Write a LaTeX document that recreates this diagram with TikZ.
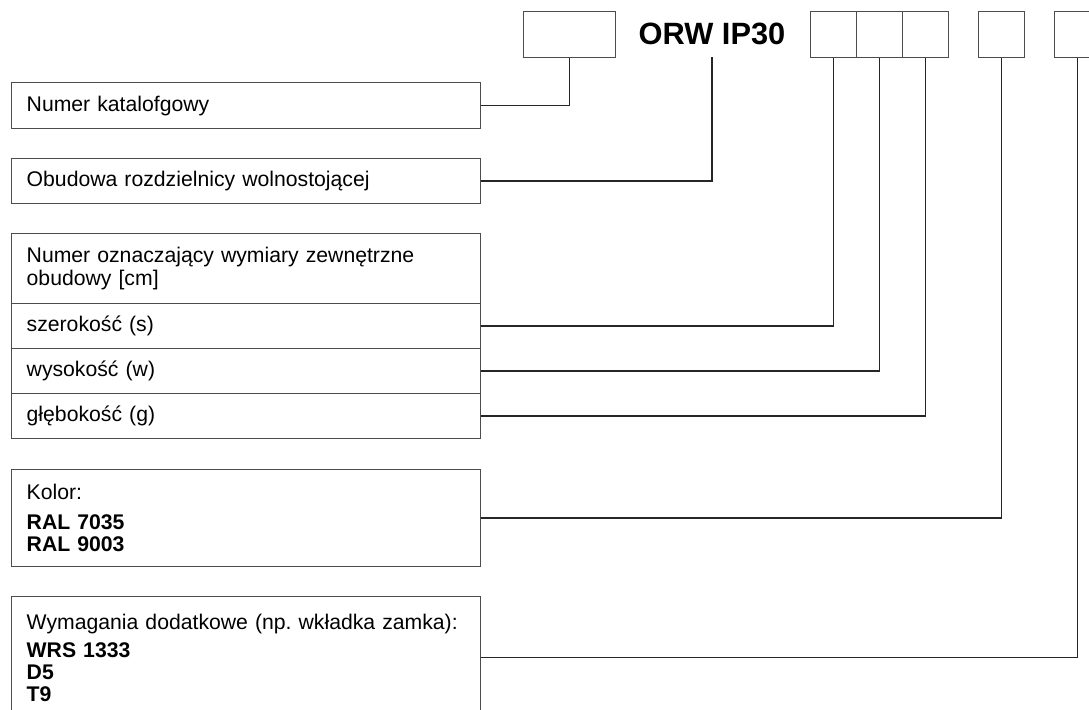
\documentclass[tikz,border=0pt]{standalone}
\usepackage{fontspec}
\setmainfont{Liberation Sans}
\usetikzlibrary{positioning}
\frenchspacing
\begin{document}
\begin{tikzpicture}[x=0.5pt,y=-0.5pt,
    box/.style={draw=black!70,line width=0.7pt},
    cell/.style={box,anchor=north west,minimum width=23pt,minimum height=23pt,inner sep=0pt},
    lbox/.style={box,anchor=north west,text width=219.5pt,inner xsep=7.5pt,inner ysep=0pt,align=left,
        font=\fontsize{10.6}{11}\selectfont},
    link/.style={draw=black!85,line width=0.7pt}]
    \useasboundingbox (0,0) rectangle (1089,710) ;
    % top row of the code
    \node[cell,minimum width=46pt] (cat) at (523,11) {} ;
    \node[minimum height=23pt,inner sep=0pt,font=\fontsize{15.4}{16}\selectfont\bfseries] (orw) at (712,34) {ORW IP30} ;
    \node[cell] (cs) at (810,11) {} ;
    \node[cell] (cw) at (856,11) {} ;
    \node[cell] (cg) at (902,11) {} ;
    \node[cell] (ck) at (978,11) {} ;
    \node[cell] (cx) at (1054,11) {} ;
    % descriptions on the left
    \node[lbox,minimum height=23pt] (numkat) at (11,82) {Numer katalofgowy} ;
    \node[lbox,minimum height=22.5pt] (obud) at (11,158) {Obudowa rozdzielnicy wolnostojącej} ;
    \node[lbox,minimum height=35pt,font=\fontsize{10.6}{11.2}\selectfont] (wym) at (11,233) {Numer oznaczający wymiary zewnętrzne\\obudowy [cm]} ;
    \node[lbox,minimum height=22.5pt] (szer) at (11,303) {szerokość (s)} ;
    \node[lbox,minimum height=22.5pt] (wys) at (11,348) {wysokość (w)} ;
    \node[lbox,minimum height=22.5pt] (gleb) at (11,393) {głębokość (g)} ;
    \node[lbox,minimum height=48.5pt] (kolor) at (11,469) {Kolor:\\[4pt]\textbf{RAL 7035}\\\textbf{RAL 9003}} ;
    \node[lbox,minimum height=61pt] (dod) at (11,596) {Wymagania dodatkowe (np. wkładka zamka):\\[3pt]\textbf{WRS 1333}\\\textbf{D5}\\\textbf{T9}} ;

    \draw[link] (cat.south) |- (numkat.east) ;
    \draw[link] (orw.south) |- (obud.east) ;
    \draw[link] (cs.south) |- (szer.east) ;
    \draw[link] (cw.south) |- (wys.east) ;
    \draw[link] (cg.south) |- (gleb.east) ;
    \draw[link] (ck.south) |- (kolor.east) ;
    \draw[link] (cx.south) |- (dod.east) ;
\end{tikzpicture}
\end{document}
